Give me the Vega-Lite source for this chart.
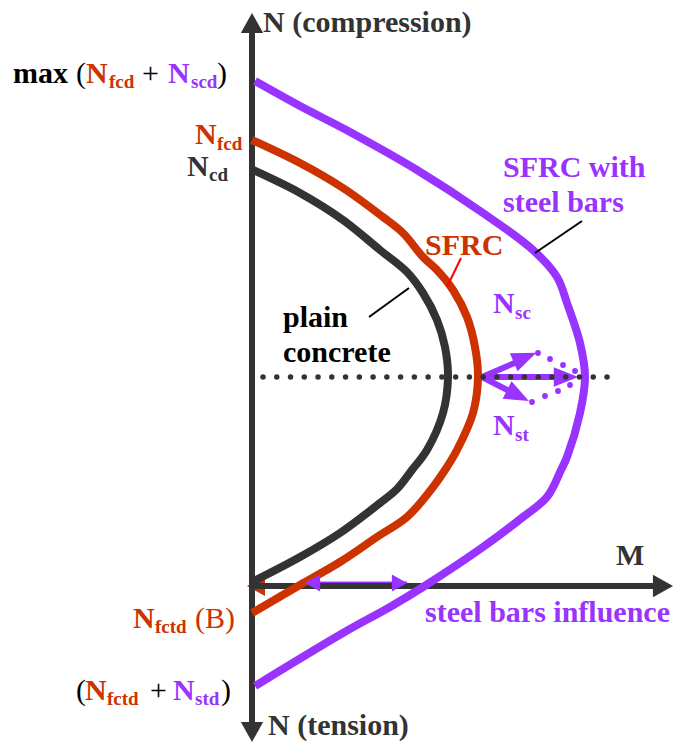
{
  "$schema": "https://vega.github.io/schema/vega-lite/v6.json",
  "width": 679,
  "height": 743,
  "autosize": "none",
  "padding": 0,
  "background": "white",
  "config": {"view": {"stroke": null}},
  "datasets": {
    "curves": [
      {"series":"steel","i":0,"M":3,"N":505},{"series":"steel","i":1,"M":48,"N":480},{"series":"steel","i":2,"M":98,"N":454},{"series":"steel","i":3,"M":165,"N":416},{"series":"steel","i":4,"M":231,"N":373},{"series":"steel","i":5,"M":281,"N":336},{"series":"steel","i":6,"M":305,"N":309},{"series":"steel","i":7,"M":315,"N":283},{"series":"steel","i":8,"M":328,"N":243},{"series":"steel","i":9,"M":333,"N":209},{"series":"steel","i":10,"M":328,"N":173},{"series":"steel","i":11,"M":315,"N":129},{"series":"steel","i":12,"M":309,"N":116},{"series":"steel","i":13,"M":295,"N":89},{"series":"steel","i":14,"M":271,"N":69},{"series":"steel","i":15,"M":231,"N":39},{"series":"steel","i":16,"M":171,"N":-1},{"series":"steel","i":17,"M":138,"N":-21},{"series":"steel","i":18,"M":91,"N":-47},{"series":"steel","i":19,"M":3,"N":-100},
      {"series":"SFRC","i":0,"M":0,"N":446},{"series":"SFRC","i":1,"M":48,"N":423},{"series":"SFRC","i":2,"M":91,"N":398},{"series":"SFRC","i":3,"M":131,"N":369},{"series":"SFRC","i":4,"M":151,"N":353},{"series":"SFRC","i":5,"M":171,"N":329},{"series":"SFRC","i":6,"M":185,"N":316},{"series":"SFRC","i":7,"M":201,"N":296},{"series":"SFRC","i":8,"M":215,"N":269},{"series":"SFRC","i":9,"M":223,"N":239},{"series":"SFRC","i":10,"M":226,"N":209},{"series":"SFRC","i":11,"M":221,"N":173},{"series":"SFRC","i":12,"M":205,"N":136},{"series":"SFRC","i":13,"M":193,"N":116},{"series":"SFRC","i":14,"M":178,"N":95},{"series":"SFRC","i":15,"M":155,"N":69},{"series":"SFRC","i":16,"M":125,"N":49},{"series":"SFRC","i":17,"M":88,"N":24},{"series":"SFRC","i":18,"M":48,"N":1},{"series":"SFRC","i":19,"M":0,"N":-27},
      {"series":"plain","i":0,"M":1,"N":416},{"series":"plain","i":1,"M":48,"N":393},{"series":"plain","i":2,"M":91,"N":366},{"series":"plain","i":3,"M":128,"N":336},{"series":"plain","i":4,"M":155,"N":314},{"series":"plain","i":5,"M":171,"N":293},{"series":"plain","i":6,"M":185,"N":266},{"series":"plain","i":7,"M":193,"N":239},{"series":"plain","i":8,"M":196,"N":209},{"series":"plain","i":9,"M":191,"N":173},{"series":"plain","i":10,"M":175,"N":136},{"series":"plain","i":11,"M":160,"N":116},{"series":"plain","i":12,"M":145,"N":97},{"series":"plain","i":13,"M":128,"N":83},{"series":"plain","i":14,"M":88,"N":53},{"series":"plain","i":15,"M":48,"N":29},{"series":"plain","i":16,"M":2,"N":5}
    ],
    "labels": [
      {"text":"N (compression)","M":11,"N":554,"series":"axis","kind":"main"},
      {"text":"max","M":-239,"N":503,"series":"note","kind":"main"},
      {"text":"N","M":-166,"N":503,"series":"SFRC","kind":"main"},
      {"text":"N","M":-84,"N":503,"series":"steel","kind":"main"},
      {"text":"N","M":-57,"N":442,"series":"SFRC","kind":"main"},
      {"text":"N","M":-65,"N":410,"series":"axis","kind":"main"},
      {"text":"SFRC with","M":251,"N":409,"series":"steel","kind":"main"},
      {"text":"steel bars","M":251,"N":374,"series":"steel","kind":"main"},
      {"text":"SFRC","M":173,"N":331,"series":"SFRC","kind":"main"},
      {"text":"plain","M":31,"N":259,"series":"note","kind":"main"},
      {"text":"concrete","M":31,"N":224,"series":"note","kind":"main"},
      {"text":"N","M":241,"N":273,"series":"steel","kind":"main"},
      {"text":"N","M":241,"N":151,"series":"steel","kind":"main"},
      {"text":"M","M":364,"N":21,"series":"axis","kind":"main"},
      {"text":"steel bars influence","M":173,"N":-36,"series":"steel","kind":"main"},
      {"text":"N","M":-119,"N":-42,"series":"SFRC","kind":"main"},
      {"text":"N","M":-167,"N":-114,"series":"SFRC","kind":"main"},
      {"text":"N","M":-79,"N":-114,"series":"steel","kind":"main"},
      {"text":"N (tension)","M":16,"N":-149,"series":"axis","kind":"main"},
      {"text":"fcd","M":-143,"N":498,"series":"SFRC","kind":"sub"},
      {"text":"scd","M":-61,"N":498,"series":"steel","kind":"sub"},
      {"text":"fcd","M":-35,"N":436,"series":"SFRC","kind":"sub"},
      {"text":"cd","M":-43,"N":405,"series":"axis","kind":"sub"},
      {"text":"sc","M":263,"N":267,"series":"steel","kind":"sub"},
      {"text":"st","M":263,"N":145,"series":"steel","kind":"sub"},
      {"text":"fctd","M":-97,"N":-47,"series":"SFRC","kind":"sub"},
      {"text":"fctd","M":-145,"N":-119,"series":"SFRC","kind":"sub"},
      {"text":"std","M":-57,"N":-119,"series":"steel","kind":"sub"},
      {"text":"(","M":-176,"N":503,"series":"note","kind":"reg"},
      {"text":"+","M":-110,"N":503,"series":"note","kind":"reg"},
      {"text":")","M":-35,"N":503,"series":"note","kind":"reg"},
      {"text":"(B)","M":-57,"N":-42,"series":"SFRC","kind":"reg"},
      {"text":"(","M":-176,"N":-114,"series":"note","kind":"reg"},
      {"text":"+","M":-102,"N":-114,"series":"note","kind":"reg"},
      {"text":")","M":-31,"N":-114,"series":"note","kind":"reg"}
    ]
  },
  "encoding": {
    "x": {"field": "M", "type": "quantitative", "scale": {"domain": [-252, 427], "nice": false, "zero": false}, "axis": null},
    "y": {"field": "N", "type": "quantitative", "scale": {"domain": [-157, 586], "nice": false, "zero": false}, "axis": null}
  },
  "layer": [
    {
      "data": {"values": [{"M": 4, "N": 0, "dir": 180}]},
      "mark": {"type": "point", "shape": "M-0.9,-1L0.9,0L-0.9,1Z", "filled": true, "opacity": 1, "size": 400, "color": "#CC3300", "strokeWidth": 0},
      "encoding": {"angle": {"field": "dir", "type": "quantitative", "scale": null}}
    },
    {
      "data": {"values": [{"M": 53, "N": 3, "M2": 155, "N2": 3}]},
      "mark": {"type": "rule", "color": "#9933FF", "strokeWidth": 3},
      "encoding": {"x2": {"field": "M2"}, "y2": {"field": "N2"}}
    },
    {
      "data": {"values": [{"M": 0, "N": 563, "M2": 0, "N2": -146}, {"M": 0, "N": 0, "M2": 411, "N2": 0}]},
      "mark": {"type": "rule", "color": "#333333", "strokeWidth": 6},
      "encoding": {"x2": {"field": "M2"}, "y2": {"field": "N2"}}
    },
    {
      "data": {"values": [{"M": 0, "N": 563, "dir": 270}, {"M": 0, "N": -146, "dir": 90}, {"M": 411, "N": 0, "dir": 0}]},
      "mark": {"type": "point", "shape": "M-0.9,-1L0.9,0L-0.9,1Z", "filled": true, "opacity": 1, "size": 500, "color": "#333333", "strokeWidth": 0},
      "encoding": {"angle": {"field": "dir", "type": "quantitative", "scale": null}}
    },
    {
      "data": {"name": "curves"},
      "mark": {"type": "line", "strokeWidth": 8, "strokeJoin": "round", "strokeCap": "butt", "interpolate": "catmull-rom"},
      "encoding": {
        "color": {"field": "series", "type": "nominal", "scale": {"domain": ["plain", "SFRC", "steel", "note", "axis"], "range": ["#333333", "#CC3300", "#9933FF", "#000000", "#333333"]}, "legend": null},
        "order": {"field": "i", "type": "quantitative"},
        "detail": {"field": "series"}
      }
    },
    {
      "data": {"values": [{"M": 60.5, "N": 3, "dir": 180}, {"M": 147.5, "N": 3, "dir": 0}]},
      "mark": {"type": "point", "shape": "M-0.9,-1L0.9,0L-0.9,1Z", "filled": true, "opacity": 1, "size": 289, "color": "#9933FF", "strokeWidth": 0},
      "encoding": {"angle": {"field": "dir", "type": "quantitative", "scale": null}}
    },
    {
      "data": {"values": [{"M": 283, "N": 333, "M2": 330, "N2": 365}, {"M": 117, "N": 269, "M2": 157, "N2": 298}]},
      "mark": {"type": "rule", "color": "#000000", "strokeWidth": 2},
      "encoding": {"x2": {"field": "M2"}, "y2": {"field": "N2"}}
    },
    {
      "data": {"values": [{"M": 195, "N": 299, "M2": 209, "N2": 328}]},
      "mark": {"type": "rule", "color": "#FF0000", "strokeWidth": 2},
      "encoding": {"x2": {"field": "M2"}, "y2": {"field": "N2"}}
    },
    {
      "data": {"values": [{"M": 230, "N": 209, "M2": 274, "N2": 228}, {"M": 230, "N": 209, "M2": 267, "N2": 190}, {"M": 230, "N": 209, "M2": 314, "N2": 209}]},
      "mark": {"type": "rule", "color": "#9933FF", "strokeWidth": 6},
      "encoding": {"x2": {"field": "M2"}, "y2": {"field": "N2"}}
    },
    {
      "data": {"values": [{"M": 273, "N": 228.5, "dir": 337}, {"M": 266, "N": 190.5, "dir": 27}, {"M": 314, "N": 209, "dir": 0}]},
      "mark": {"type": "point", "shape": "M-1,-0.8L1,0L-1,0.8Z", "filled": true, "opacity": 1, "size": 600, "color": "#9933FF", "strokeWidth": 0},
      "encoding": {"angle": {"field": "dir", "type": "quantitative", "scale": null}}
    },
    {
      "data": {"values": [{"M": 286, "N": 233}, {"M": 298, "N": 227}, {"M": 311, "N": 221}, {"M": 323, "N": 215}, {"M": 280, "N": 184}, {"M": 293, "N": 190}, {"M": 306, "N": 195}, {"M": 318, "N": 201}]},
      "mark": {"type": "point", "shape": "circle", "filled": true, "opacity": 1, "size": 34, "color": "#9933FF", "strokeWidth": 0}
    },
    {
      "data": {"values": [{"M": 11, "N": 209, "M2": 356, "N2": 209}]},
      "mark": {"type": "rule", "color": "#333333", "strokeWidth": 5.5, "strokeDash": [0, 13.76], "strokeCap": "round"},
      "encoding": {"x2": {"field": "M2"}, "y2": {"field": "N2"}}
    },
    {
      "data": {"name": "labels"},
      "transform": [{"filter": "datum.kind === 'main'"}],
      "mark": {"type": "text", "font": "Liberation Serif", "fontWeight": "bold", "fontSize": 30, "align": "left", "baseline": "alphabetic"},
      "encoding": {
        "text": {"field": "text"},
        "color": {"field": "series", "type": "nominal", "scale": {"domain": ["plain", "SFRC", "steel", "note", "axis"], "range": ["#333333", "#CC3300", "#9933FF", "#000000", "#333333"]}, "legend": null}
      }
    },
    {
      "data": {"name": "labels"},
      "transform": [{"filter": "datum.kind === 'sub'"}],
      "mark": {"type": "text", "font": "Liberation Serif", "fontWeight": "bold", "fontSize": 19, "align": "left", "baseline": "alphabetic"},
      "encoding": {
        "text": {"field": "text"},
        "color": {"field": "series", "type": "nominal", "scale": {"domain": ["plain", "SFRC", "steel", "note", "axis"], "range": ["#333333", "#CC3300", "#9933FF", "#000000", "#333333"]}, "legend": null}
      }
    },
    {
      "data": {"name": "labels"},
      "transform": [{"filter": "datum.kind === 'reg'"}],
      "mark": {"type": "text", "font": "Liberation Serif", "fontWeight": "normal", "fontSize": 30, "align": "left", "baseline": "alphabetic"},
      "encoding": {
        "text": {"field": "text"},
        "color": {"field": "series", "type": "nominal", "scale": {"domain": ["plain", "SFRC", "steel", "note", "axis"], "range": ["#333333", "#CC3300", "#9933FF", "#000000", "#333333"]}, "legend": null}
      }
    }
  ]
}
